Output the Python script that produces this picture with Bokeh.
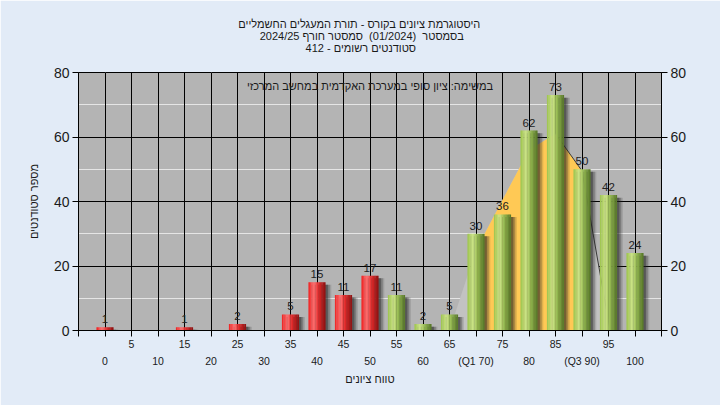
import numpy as np
from bokeh.plotting import figure
from bokeh.models import (FixedTicker, LinearAxis, Range1d, Label, Grid, Title)
from bokeh.core.properties import value
from bokeh.embed import file_html
from bokeh.resources import INLINE

# ---------------- data ----------------
grades = [0, 5, 10, 15, 20, 25, 30, 35, 40, 45, 50, 55, 60, 65, 70, 75, 80, 85, 90, 95, 100]
counts = [1, 0, 0, 1, 0, 2, 0, 5, 15, 11, 17, 11, 2, 5, 30, 36, 62, 73, 50, 42, 24]
pass_grade = 55
row1_labels = {5: "5", 15: "15", 25: "25", 35: "35", 45: "45", 55: "55",
               65: "65", 75: "75", 85: "85", 95: "95"}
row2_labels = {0: "0", 10: "10", 20: "20", 30: "30", 40: "40", 50: "50",
               60: "60", 70: "(Q1 70)", 80: "80", 90: "(Q3 90)", 100: "100"}
y_ticks = [0, 20, 40, 60, 80]
# background distribution shape
curve_x = [65, 70, 80, 85, 90, 95.3]
curve_y = [0, 25, 56, 61, 49.5, 0]
q1, q3 = 70, 90

title_lines = [
    "היסטוגרמת ציונים בקורס - תורת המעגלים החשמליים",
    "בסמסטר\u00a0 (01/2024)\u00a0 סמסטר חורף 2024/25",
    "סטודנטים רשומים - 412",
]
note_text = "במשימה: ציון סופי במערכת האקדמית במחשב המרכזי"
x_title = "טווח ציונים"
y_title = "מספר סטודנטים"

FONT = "Liberation Sans"
TXT = "#1a1a1a"
NB = "\u00a0"
# the multi-line title is laid out left-aligned: pad lines so each sits centred
title_text = "\n".join([
    title_lines[0] + NB * 7,
    NB * 7 + title_lines[1],
    NB * 22 + title_lines[2],
])

# ---------------- figure ----------------
p = figure(width=720, height=405, x_range=Range1d(-5, 105), y_range=Range1d(0, 80),
           output_backend="svg", toolbar_location=None,
           x_axis_location=None, y_axis_location=None,
           min_border_left=78, min_border_right=59, min_border_top=72, min_border_bottom=75,
           background_fill_color="#b4b4b4", border_fill_color="#e2ebf7",
           outline_line_color="black")

all_ticks = list(range(-5, 110, 5))
p.add_layout(Grid(dimension=0, ticker=FixedTicker(ticks=all_ticks),
                  grid_line_color="black", grid_line_width=1))
p.add_layout(Grid(dimension=1, ticker=FixedTicker(ticks=y_ticks),
                  grid_line_color="black", grid_line_width=1))

# background curve areas
p.patch(curve_x, curve_y, fill_color="#c2c2c2", line_color=None)
i1 = curve_x.index(q1)
i3 = curve_x.index(q3)
yx = [q1] + curve_x[i1:i3 + 1] + [q3]
yy = [0] + curve_y[i1:i3 + 1] + [0]
p.patch(yx, yy, fill_color="#ffc955", line_color=None)
p.line(curve_x[3:], curve_y[3:], line_color="#3a3a3a", line_width=1)

# bars
W = 3.2
N = 12

def hex2rgb(h):
    h = h.lstrip("#")
    return np.array([int(h[i:i + 2], 16) for i in (0, 2, 4)], dtype=float)

def grad(stops, t):
    for (t0, c0), (t1, c1) in zip(stops[:-1], stops[1:]):
        if t0 <= t <= t1:
            f = (t - t0) / (t1 - t0)
            c = hex2rgb(c0) * (1 - f) + hex2rgb(c1) * f
            return "#%02x%02x%02x" % tuple(int(round(v)) for v in c)
    return stops[-1][1]

green = [(0.0, "#9cc24c"), (0.33, "#cfe68a"), (0.6, "#94b850"), (1.0, "#557528")]
red = [(0.0, "#ee2020"), (0.33, "#ff7272"), (0.6, "#e02828"), (1.0, "#8a1212")]

sx, stop, sa = [], [], []
for g, c in zip(grades, counts):
    if c <= 0:
        continue
    for off, a in ((0.45, 0.4), (0.8, 0.27), (1.1, 0.15)):
        sx.append(g + off)
        stop.append(max(c - 0.8, 0))
        sa.append(a)
p.vbar(x=sx, top=stop, bottom=-1, width=W, fill_color="#202020", fill_alpha=sa, line_color=None)

bx, btop, bcol = [], [], []
for g, c in zip(grades, counts):
    if c <= 0:
        continue
    stops = red if g < pass_grade else green
    for k in range(N):
        t = (k + 0.5) / N
        bx.append(g - W / 2 + t * W)
        btop.append(c)
        bcol.append(grad(stops, t))
p.vbar(x=bx, top=btop, bottom=0, width=W / N * 1.15, fill_color=bcol, line_color=None)

# value labels
lx = [g for g, c in zip(grades, counts) if c > 0]
ly = [c for c in counts if c > 0]
lt = [str(c) for c in counts if c > 0]
p.text(x=lx, y=ly, text=lt, text_align="center", text_baseline="bottom", y_offset=-4,
       text_font=value(FONT), text_font_size="11.5px", text_color="#222222")

# note inside plot
p.add_layout(Label(x=50, y=75.7, text=note_text, text_align="center", text_baseline="middle",
                   text_font=FONT, text_font_size="11px", text_color=TXT))

# title (three lines)
p.add_layout(Title(text=title_text, align="center",
                   vertical_align="top", standoff=33, text_line_height=1.0,
                   text_font=FONT, text_font_size="11px", text_font_style="normal",
                   text_color=TXT), "above")

# axes
xa1 = LinearAxis(ticker=FixedTicker(ticks=all_ticks),
                 major_label_overrides={t: row1_labels.get(t, "") for t in all_ticks},
                 major_tick_out=6, major_tick_in=0, minor_tick_out=0, minor_tick_in=0,
                 axis_line_color="black", major_tick_line_color="black",
                 major_label_standoff=3, major_label_text_font=FONT,
                 major_label_text_font_size="10.5px", major_label_text_color=TXT)
p.add_layout(xa1, "below")
xa2 = LinearAxis(ticker=FixedTicker(ticks=grades),
                 major_label_overrides={t: row2_labels.get(t, "") for t in grades},
                 major_tick_out=0, major_tick_in=0, minor_tick_out=0, minor_tick_in=0,
                 axis_line_color=None, major_tick_line_color=None,
                 major_label_standoff=4, major_label_text_font=FONT,
                 major_label_text_font_size="10.5px", major_label_text_color=TXT,
                 axis_label=x_title, axis_label_standoff=3, axis_label_text_font=FONT,
                 axis_label_text_font_size="11px", axis_label_text_font_style="normal",
                 axis_label_text_color=TXT)
p.add_layout(xa2, "below")

for loc in ("left", "right"):
    ya = LinearAxis(ticker=FixedTicker(ticks=y_ticks),
                    major_tick_out=6, major_tick_in=0, minor_tick_out=0, minor_tick_in=0,
                    axis_line_color="black", major_tick_line_color="black",
                    major_label_standoff=3, major_label_text_font=FONT,
                    major_label_text_font_size="14px", major_label_text_color=TXT)
    if loc == "left":
        ya.axis_label = y_title
        ya.axis_label_standoff = 11
        ya.axis_label_text_font = FONT
        ya.axis_label_text_font_size = "11px"
        ya.axis_label_text_font_style = "normal"
        ya.axis_label_text_color = TXT
    p.add_layout(ya, loc)

open("out.html", "w").write(file_html(p, INLINE))
